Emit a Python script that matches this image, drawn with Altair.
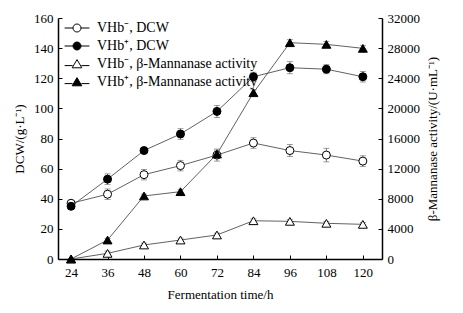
import altair as alt
import pandas as pd

hours = [24, 36, 48, 60, 72, 84, 96, 108, 120]
dcw_neg = [37, 43, 56, 62, 69, 77, 72, 69, 65]
dcw_neg_err = [1.5, 3.5, 3.5, 3.5, 4, 3.5, 4, 4.5, 3.5]
dcw_pos = [35, 53, 72, 83, 98, 121, 127, 126, 121]
dcw_pos_err = [1, 3.5, 2, 3.5, 4, 3, 4, 3, 3.5]
act_neg = [0, 750, 1860, 2520, 3190, 5080, 5000, 4740, 4600]
act_neg_err = [0, 300, 250, 250, 250, 250, 250, 250, 250]
act_pos = [0, 2520, 8370, 8940, 13940, 22080, 28720, 28500, 27970]
act_pos_err = [0, 200, 250, 250, 500, 400, 400, 400, 400]

names = ["VHb⁻, DCW", "VHb⁺, DCW",
         "VHb⁻, β-Mannanase activity", "VHb⁺, β-Mannanase activity"]
x_ticks = [24, 36, 48, 60, 72, 84, 96, 108, 120]
left_ticks = [0, 20, 40, 60, 80, 100, 120, 140, 160]
right_ticks = [0, 4000, 8000, 12000, 16000, 20000, 24000, 28000, 32000]

rows = []
for name, vals, errs in [(names[0], dcw_neg, dcw_neg_err), (names[1], dcw_pos, dcw_pos_err),
                         (names[2], act_neg, act_neg_err), (names[3], act_pos, act_pos_err)]:
    for h, v, e in zip(hours, vals, errs):
        rows.append(dict(series=name, hour=h, value=v, lo=v - e, hi=v + e))
df = pd.DataFrame(rows)

W, H = 324, 241
FONT = "Liberation Serif"
TICK = 4

xscale = alt.Scale(domain=[19.7, 126.3], nice=False, zero=False)

styles = {
    names[0]: ("circle", "white", 64),
    names[1]: ("circle", "black", 64),
    names[2]: ("triangle-up", "white", 80),
    names[3]: ("triangle-up", "black", 80),
}


def group(sub, domain, yaxis, xaxis, tick_orient):
    base = alt.Chart(df).transform_filter(alt.FieldOneOfPredicate(field="series", oneOf=sub))
    ysc = alt.Scale(domain=domain, nice=False, zero=False)

    def X():
        return alt.X("hour:Q", scale=xscale, axis=xaxis)

    def Y(f):
        return alt.Y(f, scale=ysc, axis=yaxis)

    lines = base.mark_line(color="#3a3a3a", strokeWidth=0.8).encode(
        x=X(), y=Y("value:Q"), detail="series:N")
    rules = base.mark_rule(color="#555555", strokeWidth=0.8).encode(
        x=X(), y=Y("lo:Q"), y2="hi:Q")
    tlo = base.mark_tick(orient="horizontal", size=6, thickness=0.8, color="#555555").encode(
        x=X(), y=Y("lo:Q"))
    thi = base.mark_tick(orient="horizontal", size=6, thickness=0.8, color="#555555").encode(
        x=X(), y=Y("hi:Q"))
    layers = [lines, rules, tlo, thi]
    for n in sub:
        shp, fill, sz = styles[n]
        layers.append(
            alt.Chart(df).transform_filter(alt.datum.series == n)
            .mark_point(shape=shp, filled=True, fill=fill, stroke="black", strokeWidth=1,
                        size=sz, opacity=1)
            .encode(x=X(), y=Y("value:Q")))
    main = alt.layer(*layers)
    inward = base.mark_point(opacity=0).encode(
        y=alt.Y("value:Q", scale=ysc,
                axis=alt.Axis(values=yaxis.values, orient=tick_orient, offset=-W, tickSize=TICK,
                              labels=False, domain=False, title=None, grid=False,
                              tickColor="black", tickWidth=1)))
    return alt.layer(main, inward).resolve_axis(y="independent")


xaxis = alt.Axis(values=x_ticks, title="Fermentation time/h", tickSize=0, orient="bottom",
                 labelPadding=7, titlePadding=9, grid=False)

left = group(names[:2], [0, 160],
             alt.Axis(values=left_ticks, title="DCW/(g·L⁻¹)", orient="left", tickSize=0,
                      labelPadding=5, titlePadding=7, grid=False),
             xaxis, "right")
right = group(names[2:], [0, 32000],
              alt.Axis(values=right_ticks, title="β-Mannanase activity/(U·mL⁻¹)", orient="right",
                       tickSize=0, labelPadding=5, titlePadding=7, grid=False, format="d",
                       titleAngle=270, titleBaseline="top"),
              None, "left")

xin = alt.Chart(df).mark_point(opacity=0).encode(
    x=alt.X("hour:Q", scale=xscale,
            axis=alt.Axis(values=x_ticks, orient="top", offset=-H, tickSize=TICK, labels=False,
                          domain=False, title=None, grid=False, tickColor="black", tickWidth=1)))

circ = "M-3.1,0H-1M1,0H3.1M1,0A1,1,0,1,1,-1,0A1,1,0,1,1,1,0Z"
tri = "M-3.1,0.4H-1.1M1.1,0.4H3.1M0,-1.1L1.2,0.95L-1.2,0.95Z"
legend = alt.Legend(title=None, orient="none", legendX=12, legendY=3, padding=0,
                    labelFont=FONT, labelFontSize=14, labelColor="black", labelOffset=13,
                    symbolSize=64, symbolStrokeColor="black", symbolStrokeWidth=1,
                    rowPadding=4, labelLimit=400)
leg = alt.Chart(df).transform_filter("false").mark_point(
    filled=True, stroke="black", strokeWidth=1, size=64, opacity=1).encode(
    shape=alt.Shape("series:N", scale=alt.Scale(domain=names, range=[circ, circ, tri, tri]),
                    legend=legend),
    fill=alt.Fill("series:N", scale=alt.Scale(domain=names, range=["white", "black", "white", "black"]),
                  legend=legend),
    stroke=alt.Stroke("series:N", scale=alt.Scale(domain=names, range=["black"] * 4),
                      legend=legend))

chart = alt.layer(left, right, xin, leg).resolve_scale(y="independent").resolve_axis(
    x="independent").properties(
    width=W, height=H, autosize="none",
    padding={"left": 58, "top": 18, "right": 81, "bottom": 54},
).configure_view(stroke=None).configure_axis(
    labelFont=FONT, labelFontSize=13, labelColor="black", titleFont=FONT, titleFontSize=13,
    titleFontWeight="normal", titleColor="black", domainColor="black", domainWidth=1.5,
)

chart.save("out.html", embed_options={"renderer": "svg", "actions": False})
